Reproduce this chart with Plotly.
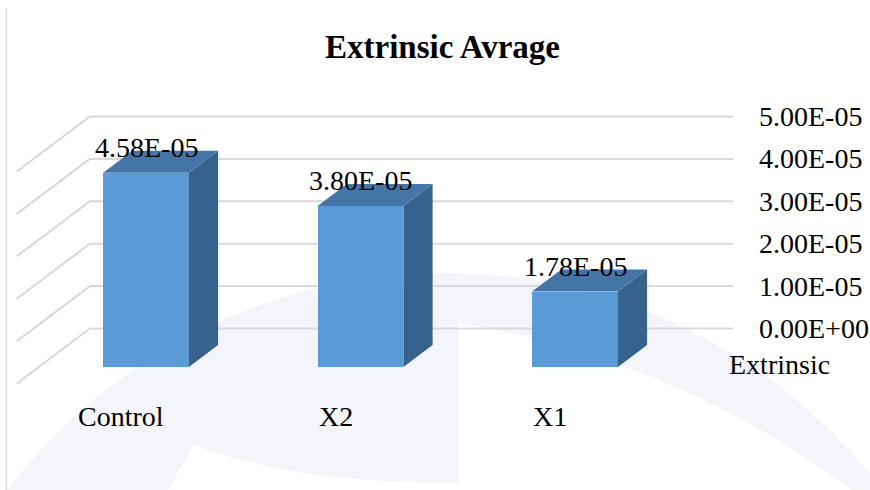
import numpy as np
import plotly.graph_objects as go

# ---- data -------------------------------------------------------------
categories = ["Control", "X2", "X1"]
values = [4.58e-05, 3.80e-05, 1.78e-05]
tick_values = [0.0, 1e-05, 2e-05, 3e-05, 4e-05, 5e-05]
series_name = "Extrinsic"
chart_title = "Extrinsic Avrage"

# ---- layout constants -------------------------------------------------
W, H = 870, 490
PX_PER_CAT = 214.5            # pixels between category centres
PX_PER_VAL = 42.4 / 1e-05     # pixels per value unit
X0_PX = 146                   # pixel of first category centre
Y0_PX = 367                   # pixel of zero on the bar front plane

# full floor depth expressed in axis units (oblique projection)
DEPTH_X = 73 / PX_PER_CAT
DEPTH_Y = 55 / PX_PER_VAL
FRONT = -0.30                 # floor front edge, relative to bar front plane
BACK = 0.70                   # back wall, relative to bar front plane
BAR_DEPTH = 0.40
BAR_W = 0.40

FONT = "Times New Roman, Liberation Serif, DejaVu Serif, serif"
FRONT_COL = "#5B9BD5"
TOP_COL = "#4475A6"
SIDE_COL = "#36628C"
GRID_COL = "#D9D9D9"
WM_COL = "#F4F5FA"

xs = list(range(len(categories)))
x_lo, x_hi = -0.5, len(categories) - 0.5

fig = go.Figure()

# front faces of the bars
fig.add_trace(go.Bar(
    x=xs, y=values, width=BAR_W,
    marker=dict(color=FRONT_COL, line=dict(width=0)),
    hoverinfo="skip", showlegend=False,
))

# top and side faces of the bars
top_x, top_y, side_x, side_y = [], [], [], []
ddx, ddy = BAR_DEPTH * DEPTH_X, BAR_DEPTH * DEPTH_Y
for xi, v in zip(xs, values):
    l, r = xi - BAR_W / 2, xi + BAR_W / 2
    top_x += [l, r, r + ddx, l + ddx, l, None]
    top_y += [v, v, v + ddy, v + ddy, v, None]
    side_x += [r, r, r + ddx, r + ddx, r, None]
    side_y += [0, v, v + ddy, ddy, 0, None]

for fx, fy, col in ((side_x, side_y, SIDE_COL), (top_x, top_y, TOP_COL)):
    fig.add_trace(go.Scatter(
        x=fx, y=fy, mode="lines", fill="toself", fillcolor=col,
        line=dict(width=0, color=col), hoverinfo="skip", showlegend=False,
    ))

shapes = []


def to_paper(px, py):
    return px / W, 1 - py / H


def path_from(points, close=True):
    pts = [to_paper(px, py) for px, py in points]
    s = "M " + " L ".join(f"{x:.5f},{y:.5f}" for x, y in pts)
    return s + (" Z" if close else "")


# faint background emblem
ox0, oy0 = to_paper(445 - 550, 823 + 550)
ox1, oy1 = to_paper(445 + 550, 823 - 550)
shapes.append(dict(type="circle", xref="paper", yref="paper",
                   x0=ox0, y0=oy0, x1=ox1, y1=oy1,
                   fillcolor=WM_COL, line=dict(width=0), layer="below"))
cx, cy, R = 314, 1209, 898
a0 = np.arctan2(322 - cy, 459 - cx)
a1 = np.arctan2(490 - cy, 852 - cx)
ang = np.linspace(a0, a1, 60)
inner = [(cx + R * np.cos(a), cy + R * np.sin(a)) for a in ang]
inner += [(852, 492), (459, 492)]
shapes.append(dict(type="path", xref="paper", yref="paper",
                   path=path_from(inner), fillcolor="white",
                   line=dict(width=0), layer="below"))
wx = [167, 194]
wy = [492, 445]
t = np.linspace(0, 1, 30)
qx = (1 - t) ** 2 * 194 + 2 * (1 - t) * t * 300 + t ** 2 * 459
qy = (1 - t) ** 2 * 445 + 2 * (1 - t) * t * 485 + t ** 2 * 482
wedge = list(zip(wx, wy)) + list(zip(qx, qy)) + [(459, 492)]
shapes.append(dict(type="path", xref="paper", yref="paper",
                   path=path_from(wedge), fillcolor="white",
                   line=dict(width=0), layer="below"))

# chart frame edge on the left
fx0, fy0 = to_paper(6.5, 8)
fx1, fy1 = to_paper(6.5, 492)
shapes.append(dict(type="line", xref="paper", yref="paper",
                   x0=fx0, y0=fy0, x1=fx1, y1=fy1,
                   line=dict(color="#DCDCDC", width=1.5), layer="below"))

# gridlines on the back wall and the left side wall
for tv in tick_values:
    bx0 = x_lo + BACK * DEPTH_X
    bx1 = x_hi + BACK * DEPTH_X
    by = tv + BACK * DEPTH_Y
    shapes.append(dict(type="line", xref="x", yref="y",
                       x0=bx0, y0=by, x1=bx1, y1=by,
                       line=dict(color=GRID_COL, width=2), layer="below"))
    shapes.append(dict(type="line", xref="x", yref="y",
                       x0=x_lo + FRONT * DEPTH_X, y0=tv + FRONT * DEPTH_Y,
                       x1=bx0, y1=by,
                       line=dict(color=GRID_COL, width=2), layer="below"))

annotations = []
# value labels above the bars
for xi, v in zip(xs, values):
    annotations.append(dict(
        x=xi, y=v, xref="x", yref="y", text=f"{v:.2E}",
        showarrow=False, yshift=25, xanchor="center", yanchor="middle",
        font=dict(family=FONT, size=28, color="#000000"),
    ))

# value axis labels on the right of the back wall
for tv in tick_values:
    annotations.append(dict(
        x=x_hi + BACK * DEPTH_X, y=tv + BACK * DEPTH_Y, xref="x", yref="y",
        text=f"{tv:.2E}", showarrow=False, xshift=24,
        xanchor="left", yanchor="middle",
        font=dict(family=FONT, size=28, color="#000000"),
    ))

# series (depth axis) label
annotations.append(dict(
    x=x_hi + BACK * DEPTH_X, y=BACK * DEPTH_Y, xref="x", yref="y",
    text=series_name, showarrow=False, xshift=-6, yshift=-36,
    xanchor="left", yanchor="middle",
    font=dict(family=FONT, size=28, color="#000000"),
))

# category labels along the front edge of the floor
for xi, name in zip(xs, categories):
    annotations.append(dict(
        x=xi + FRONT * DEPTH_X, y=FRONT * DEPTH_Y, xref="x", yref="y",
        text=name, showarrow=False, xshift=-3, yshift=-33,
        xanchor="center", yanchor="middle",
        font=dict(family=FONT, size=28, color="#000000"),
    ))

# title
tx, ty = to_paper(442, 47)
annotations.append(dict(
    x=tx, y=ty, xref="paper", yref="paper", text=f"<b>{chart_title}</b>",
    showarrow=False, xanchor="center", yanchor="middle",
    font=dict(family=FONT, size=33, color="#000000"),
))

fig.update_layout(
    width=W, height=H,
    margin=dict(l=0, r=0, t=0, b=0),
    paper_bgcolor="white",
    plot_bgcolor="rgba(0,0,0,0)",
    font=dict(family=FONT),
    shapes=shapes,
    annotations=annotations,
    bargap=0,
    xaxis=dict(range=[-X0_PX / PX_PER_CAT, (W - X0_PX) / PX_PER_CAT],
               visible=False, fixedrange=True),
    yaxis=dict(range=[-(H - Y0_PX) / PX_PER_VAL, Y0_PX / PX_PER_VAL],
               visible=False, fixedrange=True),
)

fig.write_html("out.html")
